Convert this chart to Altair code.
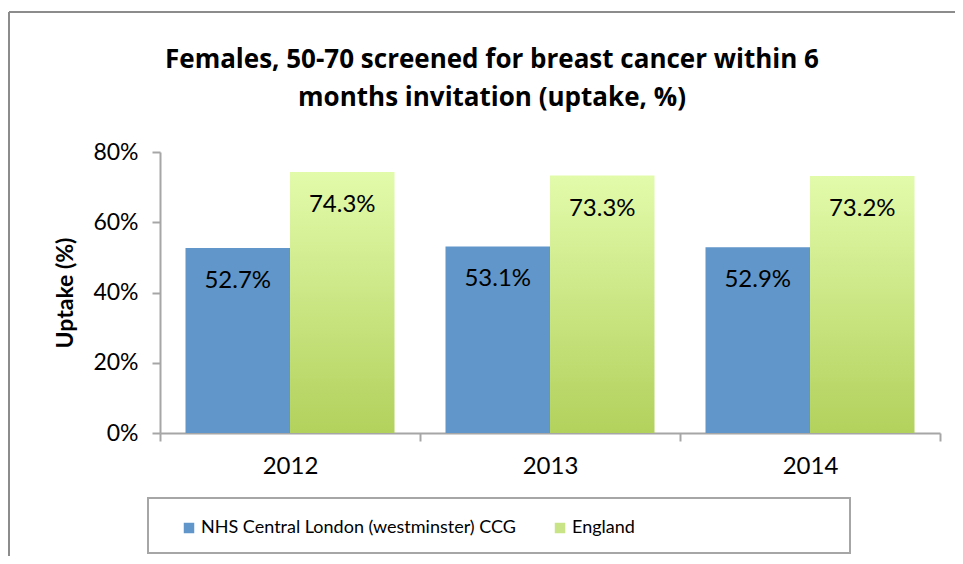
import altair as alt
import pandas as pd

years = ["2012", "2013", "2014"]
series = ["NHS Central London (westminster) CCG", "England"]
nhs = [52.7, 53.1, 52.9]
england = [74.3, 73.3, 73.2]
y_ticks = [0, 20, 40, 60, 80]
title_lines = ["Females, 50-70 screened for breast cancer within 6",
               "months invitation (uptake, %)"]

rows = []
for i, yr in enumerate(years):
    rows.append({"year": yr, "series": series[0], "value": nhs[i]})
    rows.append({"year": yr, "series": series[1], "value": england[i]})
df = pd.DataFrame(rows)
df["label"] = df["value"].map(lambda v: f"{v:.1f}%")

FONT = "Lato"
TFONT = "Open Sans"
GREY = "#a6a6a6"
BLUE = "#6096c9"
GREEN = "#c8e487"
gradient = {
    "gradient": "linear", "x1": 0, "y1": 0, "x2": 0, "y2": 1,
    "stops": [{"offset": 0, "color": "#e2fbab"}, {"offset": 1, "color": "#b2d15c"}],
}

x_enc = alt.X(
    "year:N",
    sort=years,
    scale=alt.Scale(paddingInner=0, paddingOuter=0),
    axis=alt.Axis(
        title=None, labelFontSize=24, labelFont=FONT, labelColor="#000",
        labelPadding=13, tickSize=8, tickColor=GREY, tickWidth=2,
        domainColor=GREY, domainWidth=2, labelAngle=0, tickBand="extent",
    ),
)
xo_enc = alt.XOffset("series:N", sort=series,
                     scale=alt.Scale(paddingInner=0, paddingOuter=0.244))
y_enc = alt.Y(
    "value:Q",
    scale=alt.Scale(domain=[0, 80]),
    axis=alt.Axis(
        values=y_ticks, labelExpr="datum.value + '%'", grid=False,
        title="Uptake (%)", titleFont=FONT, titleFontSize=23, titleFontWeight="bold",
        titleColor="#000", titleX=-95, titleY=140.5, titleAngle=270,
        titleAlign="center", titleBaseline="middle",
        labelFont=FONT, labelFontSize=23, labelColor="#000", labelPadding=14,
        tickSize=8, tickColor=GREY, tickWidth=2, domainColor=GREY, domainWidth=2,
    ),
)

bars = alt.Chart(df).mark_bar().encode(
    x=x_enc,
    xOffset=xo_enc,
    y=y_enc,
    color=alt.condition(
        "datum.series === 'England'",
        alt.value(gradient),
        alt.Color(
            "series:N", sort=series,
            scale=alt.Scale(domain=series, range=[BLUE, GREEN]),
            legend=alt.Legend(
                title=None, orient="none", legendX=20, legendY=367,
                direction="horizontal", symbolType="square", symbolSize=110,
                symbolStrokeWidth=0, labelFont=FONT, labelFontSize=18,
                labelColor="#000", columnPadding=35, labelOffset=3,
                labelLimit=0, padding=0,
            ),
        ),
    ),
)

labels = alt.Chart(df).mark_text(
    font=FONT, fontSize=24, color="#000", baseline="middle", dy=33
).encode(x=alt.X("year:N", sort=years), xOffset=alt.XOffset("series:N", sort=series),
         y="value:Q", text="label:N")

one = pd.DataFrame({"k": [0]})
title1 = alt.Chart(one).mark_text(
    font=TFONT, fontSize=26, fontWeight="bold", color="#000", baseline="middle", align="center"
).encode(x=alt.value(332), y=alt.value(-92), text=alt.value(title_lines[0]))
title2 = alt.Chart(one).mark_text(
    font=TFONT, fontSize=26, fontWeight="bold", color="#000", baseline="middle", align="center"
).encode(x=alt.value(332), y=alt.value(-54), text=alt.value(title_lines[1]))

legend_box = alt.Chart(one).mark_rect(fill="white", stroke=GREY, strokeWidth=2).encode(
    x=alt.value(-12), x2=alt.value(690), y=alt.value(346), y2=alt.value(401)
)
frame_top = alt.Chart(one).mark_rule(color="#8c8c8c", strokeWidth=2).encode(
    x=alt.value(-151), x2=alt.value(900), y=alt.value(-140)
)
frame_left = alt.Chart(one).mark_rule(color="#8c8c8c", strokeWidth=2).encode(
    x=alt.value(-151), y=alt.value(-140), y2=alt.value(600)
)

chart = alt.layer(frame_top, frame_left, legend_box, title1, title2, bars, labels).properties(
    width=780,
    height=281,
    background="white",
    autosize=alt.AutoSizeParams(type="none"),
    padding={"left": 152, "top": 144, "right": 15, "bottom": 123},
).configure_view(stroke=None)

chart.save("out.html", embed_options={"renderer": "svg", "actions": False})
